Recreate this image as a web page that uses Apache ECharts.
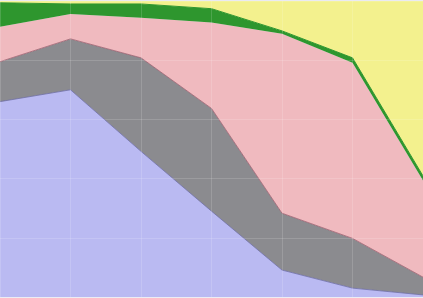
<!DOCTYPE html>
<html>
<head>
<meta charset="utf-8">
<script src="https://cdn.jsdelivr.net/npm/echarts@6/dist/echarts.min.js"></script>
<style>
html,body{margin:0;padding:0;background:#eaeaf2;}
#c{width:423px;height:298px;}
</style>
</head>
<body>
<div id="c"></div>
<script>
const categories = ["1", "2", "3", "4", "5", "6", "7"];
const blueValues   = [66.0, 70.0, 49.2, 29.0, 9.1, 3.0, 0.7];
const grayValues   = [13.5, 17.2, 31.6, 34.7, 19.2, 16.8, 6.0];
const pinkValues   = [11.8, 8.4, 13.5, 29.0, 60.6, 59.3, 32.7];
const greenValues  = [8.1, 3.4, 4.7, 4.7, 1.0, 1.7, 1.5];
const yellowValues = [0.6, 1.0, 1.0, 2.6, 10.1, 19.2, 59.1];
const yTicks = [0, 20, 40, 60, 80, 100];

const chart = echarts.init(document.getElementById('c'), null, {renderer: 'canvas'});

function layer(name, data, fill, line, lw) {
  return {
    name: name,
    type: 'line',
    stack: 'total',
    data: data,
    symbol: 'none',
    smooth: false,
    lineStyle: {color: line, width: lw},
    areaStyle: {color: fill, opacity: 1},
    itemStyle: {color: fill},
    emphasis: {disabled: true},
    silent: true,
    z: 2
  };
}

chart.setOption({
  animation: false,
  backgroundColor: '#eaeaf2',
  grid: {left: 0, right: 0, top: 1, bottom: 1, containLabel: false},
  xAxis: {
    type: 'category',
    data: categories,
    boundaryGap: false,
    z: 10,
    axisLine: {show: false},
    axisTick: {show: false},
    axisLabel: {show: false},
    splitLine: {show: true, lineStyle: {color: 'rgba(255,255,255,0.15)', width: 1}}
  },
  yAxis: {
    type: 'value',
    min: yTicks[0],
    max: yTicks[yTicks.length - 1],
    interval: yTicks[1] - yTicks[0],
    z: 10,
    axisLine: {show: false},
    axisTick: {show: false},
    axisLabel: {show: false},
    splitLine: {show: true, lineStyle: {color: 'rgba(255,255,255,0.15)', width: 1}}
  },
  series: [
    layer('A', blueValues, '#babaf2', '#6e6ea8', 0.8),
    layer('B', grayValues, '#8b8b8f', '#9a5f6e', 0.8),
    layer('C', pinkValues, '#f0babf', '#2e962e', 0),
    layer('D', greenValues, '#2e962e', '#2e962e', 1),
    layer('E', yellowValues, '#f3f18e', '#f3f18e', 0)
  ]
});
</script>
</body>
</html>
